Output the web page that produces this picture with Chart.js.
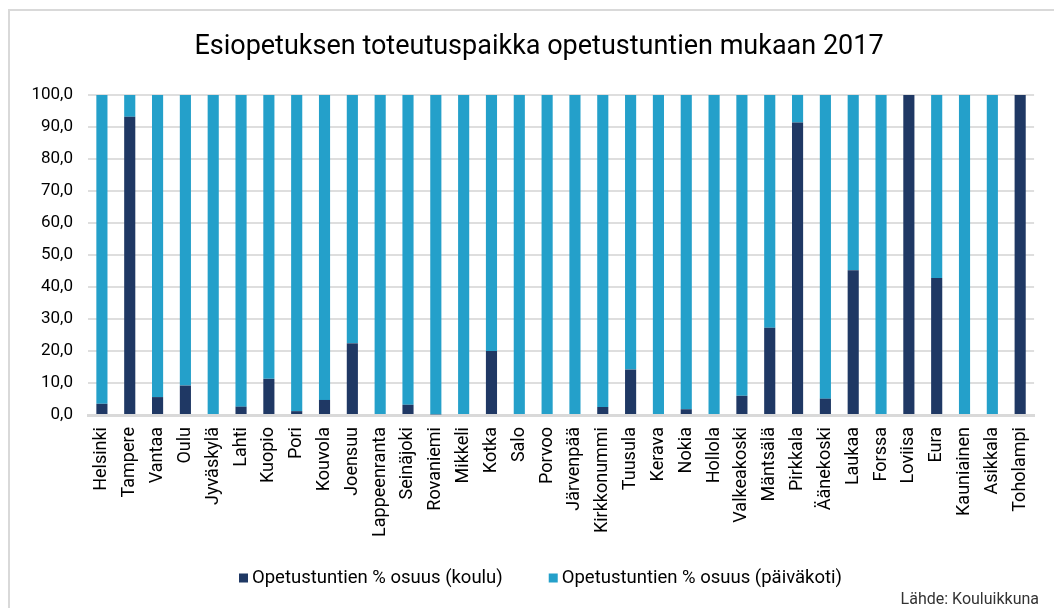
<!DOCTYPE html>
<html>
<head>
<meta charset="utf-8">
<script src="https://cdn.jsdelivr.net/npm/chart.js@4"></script>
<style>
  html, body { margin: 0; padding: 0; background: #fff; }
  canvas { display: block; }
</style>
</head>
<body>
<canvas id="c" width="1054" height="608"></canvas>
<script>
const chartTitle = 'Esiopetuksen toteutuspaikka opetustuntien mukaan 2017';
const sourceText = 'Lähde: Kouluikkuna';
const seriesNames = ['Opetustuntien % osuus (koulu)', 'Opetustuntien % osuus (päiväkoti)'];
const seriesColors = ['#1f3864', '#24a0ca'];
const categories = ['Helsinki','Tampere','Vantaa','Oulu','Jyväskylä','Lahti','Kuopio','Pori','Kouvola','Joensuu','Lappeenranta','Seinäjoki','Rovaniemi','Mikkeli','Kotka','Salo','Porvoo','Järvenpää','Kirkkonummi','Tuusula','Kerava','Nokia','Hollola','Valkeakoski','Mäntsälä','Pirkkala','Äänekoski','Laukaa','Forssa','Loviisa','Eura','Kauniainen','Asikkala','Toholampi'];
const koulu = [3.5, 93.2, 5.6, 9.2, 0, 2.6, 11.3, 1.2, 4.7, 22.4, 0, 3.2, 0.2, 0, 20.0, 0, 0, 0, 2.5, 14.2, 0, 1.8, 0, 6.0, 27.3, 91.4, 5.1, 45.2, 0, 100, 42.8, 0, 0, 100];
const paivakoti = [96.5, 6.8, 94.4, 90.8, 100, 97.4, 88.7, 98.8, 95.3, 77.6, 100, 96.8, 99.8, 100, 80.0, 100, 100, 100, 97.5, 85.8, 100, 98.2, 100, 94.0, 72.7, 8.6, 94.9, 54.8, 100, 0, 57.2, 100, 100, 0];
const yTickLabels = ['0,0','10,0','20,0','30,0','40,0','50,0','60,0','70,0','80,0','90,0','100,0'];

Chart.defaults.font.family = 'Roboto';
Chart.defaults.color = '#000';

const framePlugin = {
  id: 'frame',
  beforeDraw(chart) {
    const ctx = chart.ctx;
    ctx.save();
    ctx.fillStyle = '#fff';
    ctx.fillRect(0, 0, chart.width, chart.height);
    ctx.strokeStyle = '#d9d9d9';
    ctx.lineWidth = 2;
    ctx.beginPath();
    ctx.moveTo(9, chart.height + 2);
    ctx.lineTo(9, 10);
    ctx.lineTo(chart.width + 2, 10);
    ctx.stroke();
    ctx.restore();
  },
  afterDraw(chart) {
    const ctx = chart.ctx;
    ctx.save();
    // title
    ctx.font = '27px Roboto';
    ctx.fillStyle = '#000';
    ctx.textAlign = 'center';
    ctx.textBaseline = 'middle';
    ctx.fillText(chartTitle, 539, 47);
    // legend, built from the datasets
    ctx.font = '18.5px Roboto';
    ctx.textAlign = 'left';
    let x = 239;
    const ly = 578;
    chart.data.datasets.forEach(ds => {
      ctx.fillStyle = ds.backgroundColor;
      ctx.fillRect(x, ly - 4.5, 9, 9);
      ctx.fillStyle = '#000';
      ctx.fillText(ds.label, x + 13, ly);
      x += 13 + ctx.measureText(ds.label).width + 46;
    });
    // source
    ctx.font = '16px Roboto';
    ctx.fillStyle = '#333';
    ctx.textAlign = 'right';
    ctx.fillText(sourceText, 1039, 600);
    ctx.restore();
  }
};

new Chart(document.getElementById('c'), {
  type: 'bar',
  data: {
    labels: categories,
    datasets: [
      { label: seriesNames[0], data: koulu, backgroundColor: seriesColors[0], borderWidth: 0 },
      { label: seriesNames[1], data: paivakoti, backgroundColor: seriesColors[1], borderWidth: 0 }
    ]
  },
  options: {
    responsive: false,
    animation: false,
    devicePixelRatio: 1,
    layout: { padding: { left: 0, right: 16, top: 95, bottom: 0 } },
    datasets: { bar: { categoryPercentage: 1, barPercentage: 0.4 } },
    plugins: {
      title: { display: false },
      legend: { display: false },
      tooltip: { enabled: false }
    },
    scales: {
      x: {
        stacked: true,
        grid: { display: false, drawTicks: false },
        border: { display: true, color: '#d9d9d9', width: 3 },
        ticks: { autoSkip: false, minRotation: 90, maxRotation: 90, padding: 12, font: { size: 18 }, color: '#000' },
        afterFit(scale) { scale.height = 193; }
      },
      y: {
        stacked: true,
        min: 0,
        max: 100,
        grid: { color: '#dedede', lineWidth: 2, drawTicks: false },
        border: { display: false },
        ticks: {
          stepSize: 10,
          padding: 15,
          font: { size: 17 },
          color: '#000',
          callback: (v, i) => yTickLabels[i]
        },
        afterFit(scale) { scale.width = 88; }
      }
    }
  },
  plugins: [framePlugin]
});
</script>
</body>
</html>
